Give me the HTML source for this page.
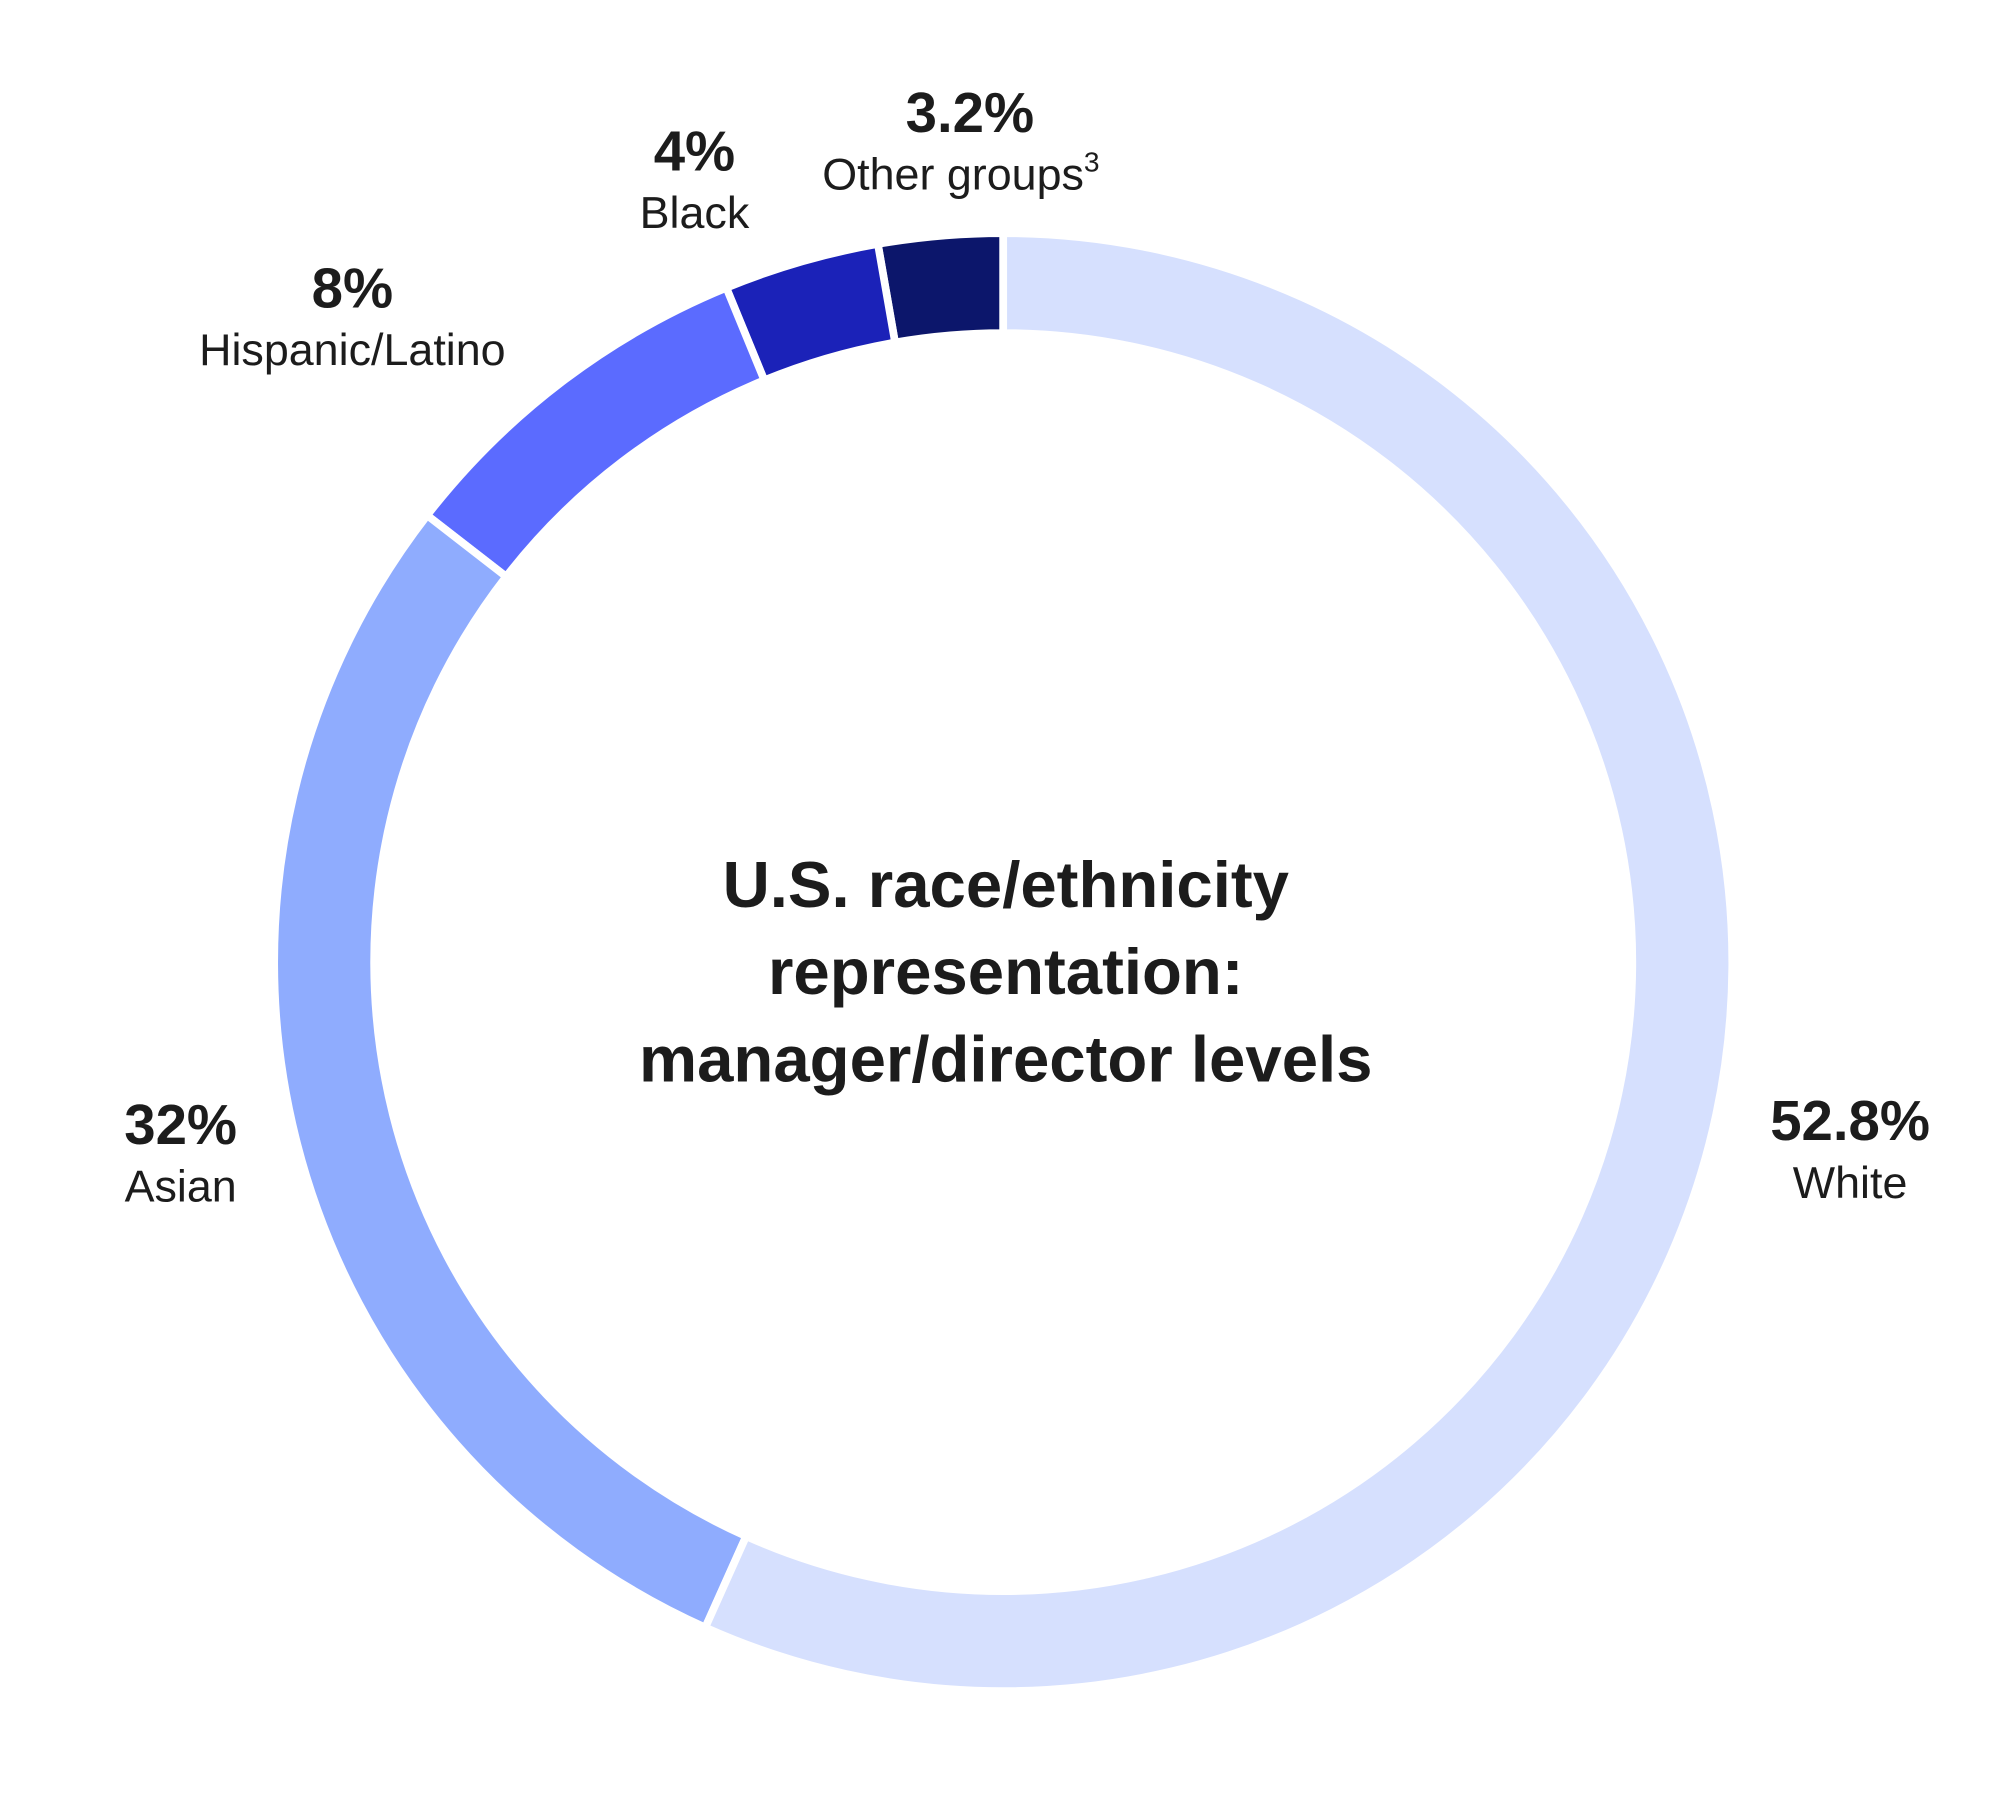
<!DOCTYPE html>
<html><head><meta charset="utf-8"><style>
html,body{margin:0;padding:0;background:#fff}
svg{display:block}
text{font-family:"Liberation Sans",sans-serif;fill:#1c1c1c}
.pct{font-weight:bold;font-size:44px}
.cat{font-size:35px}
.title{font-weight:bold;font-size:51px}
</style></head><body>
<svg id="chart" width="2009" height="1800" viewBox="0 0 1568 1405" preserveAspectRatio="none" xmlns="http://www.w3.org/2000/svg">
<g id="slices"></g>
<g>
<text class="title" x="785" y="708" text-anchor="middle">U.S. race/ethnicity</text>
<text class="title" x="785" y="776" text-anchor="middle">representation:</text>
<text class="title" x="785" y="844" text-anchor="middle">manager/director levels</text>
</g>
<g id="labels"></g>
</svg>
<script>
const categories=["Other groups","Black","Hispanic/Latino","Asian","White"];
const drawnShares=[2.75,3.45,8.3,28.8,56.7];
const printedValues=["3.2%","4%","8%","32%","52.8%"];
const colors=["#0c166b","#1b22b8","#5b6bff","#8facfe","#d6e0fe"];
const labelPos=[[757,103,750,148],[542,133,542,178],[275,240,275,285],[141,893,141,938],[1444,890,1444,935]];
const cx=783,cy=751,R=569,r=491;
const NS="http://www.w3.org/2000/svg";
const total=drawnShares.reduce((a,b)=>a+b,0);
function pt(a,rad){return [cx+rad*Math.sin(a),cy-rad*Math.cos(a)];}
let acc=0;
const g=document.getElementById('slices');
drawnShares.forEach((v,i)=>{
  // counterclockwise from top
  const a0=-acc/total*2*Math.PI, a1=-(acc+v)/total*2*Math.PI;
  acc+=v;
  const large=(v/total)>0.5?1:0;
  const p0=pt(a0,R),p1=pt(a1,R),q1=pt(a1,r),q0=pt(a0,r);
  const d=`M${p0[0]},${p0[1]} A${R},${R} 0 ${large} 0 ${p1[0]},${p1[1]} L${q1[0]},${q1[1]} A${r},${r} 0 ${large} 1 ${q0[0]},${q0[1]} Z`;
  const p=document.createElementNS(NS,'path');
  p.setAttribute('d',d);p.setAttribute('fill',colors[i]);
  p.setAttribute('stroke','#fff');p.setAttribute('stroke-width','6');
  
  
  g.appendChild(p);
});
const lg=document.getElementById('labels');
categories.forEach((c,i)=>{
  const [x1,y1,x2,y2]=labelPos[i];
  const t=document.createElementNS(NS,'text');
  t.setAttribute('class','pct');t.setAttribute('x',x1);t.setAttribute('y',y1);t.setAttribute('text-anchor','middle');
  t.textContent=printedValues[i];
  
  
  lg.appendChild(t);
  const t2=document.createElementNS(NS,'text');
  t2.setAttribute('class','cat');t2.setAttribute('x',x2);t2.setAttribute('y',y2);t2.setAttribute('text-anchor','middle');
  t2.textContent=c;
  if(i===0){const s=document.createElementNS(NS,'tspan');s.setAttribute('font-size','22');s.setAttribute('dy','-14');s.textContent='3';t2.appendChild(s);}
  
  
  lg.appendChild(t2);
});
</script>
</body></html>
